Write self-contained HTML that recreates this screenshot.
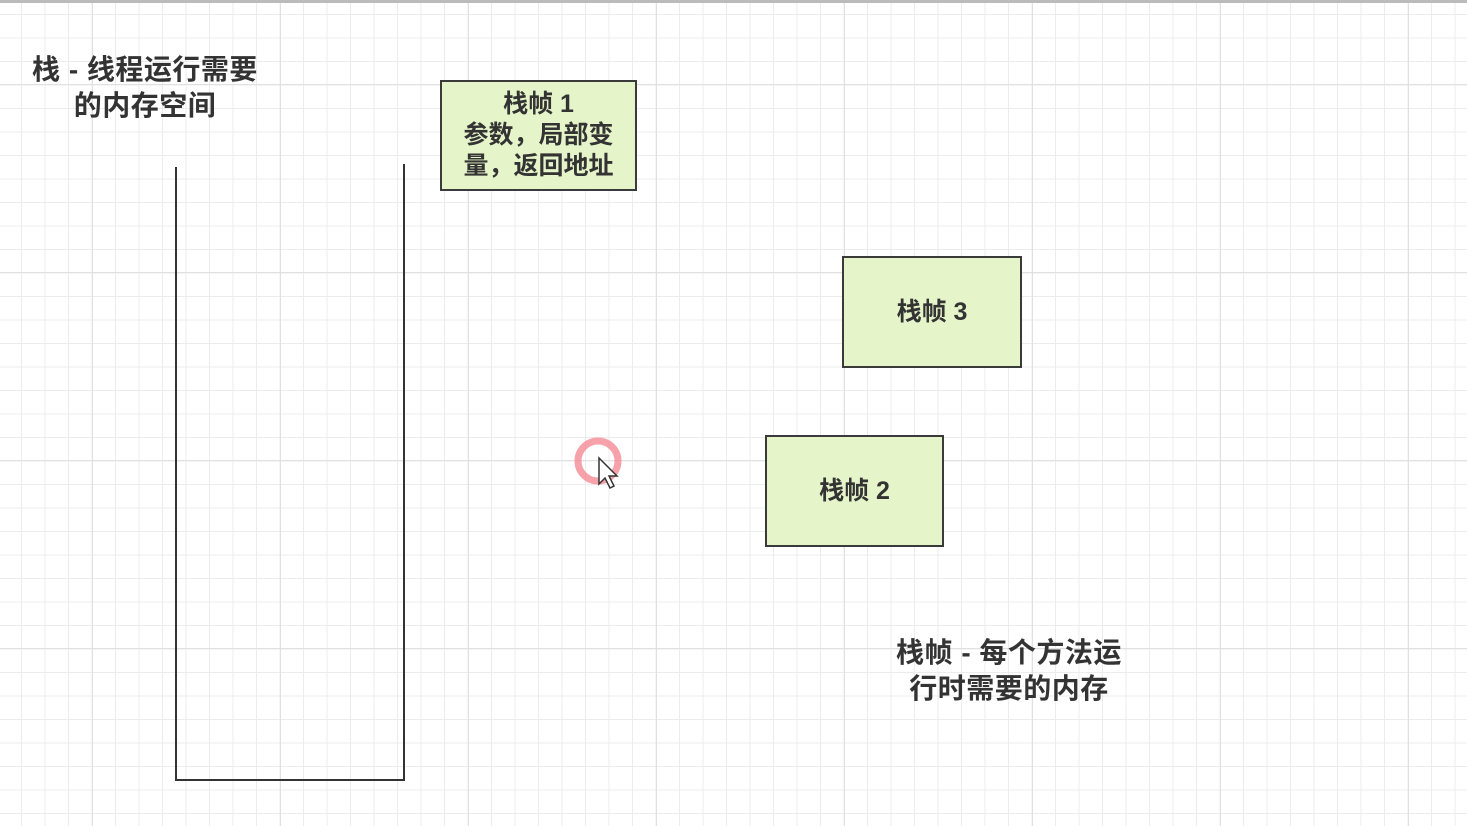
<!DOCTYPE html>
<html><head><meta charset="utf-8"><style>
html,body{margin:0;padding:0}
body{width:1467px;height:826px;overflow:hidden;position:relative;background:#fff;
font-family:"Liberation Sans","Noto Sans CJK SC",sans-serif;
background-image:
linear-gradient(to right,#e0e0e0 1px,transparent 1px),
linear-gradient(to bottom,#e0e0e0 1px,transparent 1px),
linear-gradient(to right,#ececec 1px,transparent 1px),
linear-gradient(to bottom,#ececec 1px,transparent 1px);
background-size:188px 188px,188px 188px,23.5px 23.5px,23.5px 23.5px;
background-position:92px 0,0 84px,21px 0,0 14px;}
.top{position:absolute;left:0;top:0;width:1467px;height:3px;background:#bbb}
.t{position:absolute;font-weight:bold;color:#333;font-size:28px;letter-spacing:0.5px;line-height:36px;text-align:center;white-space:nowrap}
.box{position:absolute;background:#e6f5c9;border:2px solid #3a3a3a;box-sizing:border-box;display:flex;align-items:center;justify-content:center;text-align:center;font-weight:bold;color:#333;font-size:25px;line-height:31px}
</style></head><body>
<div class="top"></div>
<div class="t" style="left:15px;top:52px;width:260px">栈 - 线程运行需要<br>的内存空间</div>
<svg style="position:absolute;left:0;top:0" width="1467" height="826">
<polyline points="176,167 176,780 404,780 404,164" fill="none" stroke="#333" stroke-width="2"/>
<circle cx="598" cy="461" r="20" fill="none" stroke="#f58a95" stroke-width="7" opacity="0.8"/>
<path d="M599,458 L599,484 L605,478 L610,488 L614,486 L609,476 L617,476 Z" fill="#fff" stroke="#333" stroke-width="1.5"/>
</svg>
<div class="box" style="left:440px;top:80px;width:197px;height:111px">栈帧 1<br>参数，局部变<br>量，返回地址</div>
<div class="box" style="left:842px;top:256px;width:180px;height:112px">栈帧 3</div>
<div class="box" style="left:765px;top:435px;width:179px;height:112px">栈帧 2</div>
<div class="t" style="left:878px;top:635px;width:262px">栈帧 - 每个方法运<br>行时需要的内存</div>
</body></html>
